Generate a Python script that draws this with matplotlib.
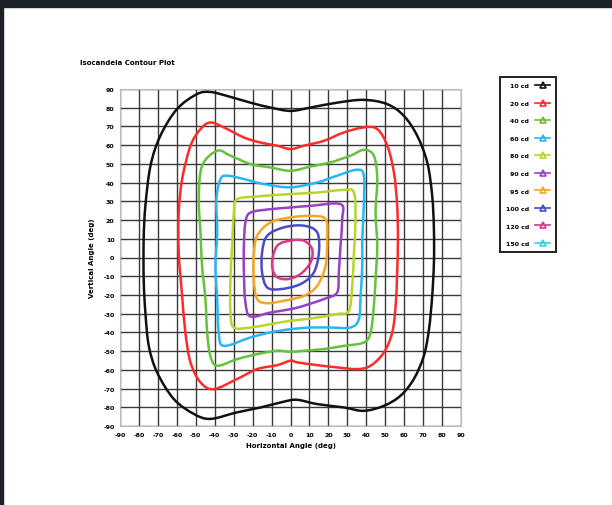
import numpy as np
import matplotlib
matplotlib.use("Agg")
import matplotlib.pyplot as plt
from matplotlib.lines import Line2D
from matplotlib.patches import Rectangle, PathPatch
from matplotlib.path import Path

# contour labels and colours (outer -> inner)
labels = ["10 cd", "20 cd", "40 cd", "60 cd", "80 cd", "90 cd", "95 cd", "100 cd", "120 cd", "150 cd"]
colors = ["#111111", "#ff2a2a", "#66c23a", "#29b6f6", "#b8d62a", "#9a3fc8", "#f5a623", "#4a4acb", "#e0338a", "#33d0e8"]

# contour points (horizontal deg, vertical deg)
c10_x = [-68.7, -59.9, -49.3, -42.3, -33.5, -21.1, -10.6, 0.0, 10.6, 24.6, 38.7, 51.1, 59.9, 66.9, 72.2, 74.8, 75.7,
         75.7, 74.8, 73.1, 70.4, 65.1, 58.1, 49.3, 38.7, 28.2, 14.1, 3.5, -3.5, -15.8, -28.2, -42.3, -51.1, -61.6,
         -70.4, -74.8, -76.6, -77.5, -77.5, -76.6, -73.9]
c10_y = [65.0, 79.3, 87.3, 88.4, 86.3, 82.7, 80.1, 78.3, 80.1, 82.7, 84.2, 81.9, 75.6, 65.0, 50.7, 32.9, 15.1,
         -2.7, -20.5, -38.3, -52.5, -64.9, -73.8, -79.2, -81.9, -80.1, -78.3, -76.0, -77.0, -80.1, -82.7, -86.2, -83.5,
         -75.6, -61.4, -47.2, -29.4, -11.6, 9.8, 27.6, 49.0]

c20_x = [-42.3, -35.2, -24.6, -15.8, -7.0, 0.0, 7.0, 17.6, 28.2, 38.7, 45.8, 51.1, 54.6, 56.3, 56.7, 56.3, 55.5,
         53.7, 49.3, 42.3, 35.2, 24.6, 14.1, 3.5, 0.0, -7.0, -17.6, -28.2, -40.5, -47.5, -52.8, -55.5, -57.2, -59.0,
         -59.0, -57.2, -52.8, -47.5]
c20_y = [72.1, 69.5, 64.1, 61.4, 59.7, 57.9, 59.7, 62.3, 66.8, 69.5, 68.6, 59.7, 45.4, 27.6, 9.8, -8.0, -25.8,
         -40.0, -50.7, -57.8, -59.6, -58.7, -57.5, -56.0, -55.1, -57.5, -59.6, -64.9, -70.3, -66.7, -56.0, -40.0,
         -20.5, 2.7, 24.0, 41.8, 59.6, 68.6]

c40_x = [-38.7, -31.7, -21.1, -10.6, 0.0, 10.6, 21.1, 31.7, 38.7, 44.0, 45.8, 44.9, 45.8, 44.9, 44.0, 42.3, 38.7,
         28.2, 17.6, 7.0, 0.0, -7.0, -17.6, -28.2, -38.7, -42.3, -44.0, -44.9, -46.7, -47.5, -48.4, -46.7]
c40_y = [57.0, 54.4, 49.9, 48.1, 46.3, 48.6, 50.8, 54.4, 57.5, 54.4, 41.9, 24.1, 6.3, -11.6, -25.8, -40.0, -45.4,
         -47.2, -48.9, -49.8, -50.4, -49.8, -51.6, -54.3, -57.8, -52.5, -40.0, -22.2, -4.4, 13.3, 31.1, 48.9]

c60_x = [-33.5, -24.6, -14.1, 0.0, 14.1, 24.6, 35.2, 38.7, 38.7, 37.9, 37.9, 37.0, 36.1, 31.7, 21.1, 10.6, 0.0,
         -10.6, -21.1, -35.2, -37.9, -38.7, -39.6, -38.7, -39.1, -37.0]
c60_y = [43.7, 41.9, 39.2, 37.5, 40.1, 43.7, 46.9, 43.7, 27.7, 9.9, -4.4, -20.5, -32.9, -37.4, -37.4, -37.4, -38.3,
         -40.0, -42.7, -47.2, -40.0, -22.2, -4.4, 13.3, 31.1, 41.8]

c80_x = [-28.2, -17.6, 0.0, 14.1, 28.2, 33.5, 34.3, 33.5, 32.6, 30.8, 24.6, 10.6, 0.0, -10.6, -21.1, -29.9, -31.7,
         -31.7, -30.8, -29.9]
c80_y = [31.1, 32.6, 33.9, 34.7, 36.1, 34.7, 20.5, 2.7, -15.1, -28.5, -30.2, -32.6, -33.8, -35.6, -37.4, -37.4,
         -29.4, -11.6, 6.2, 24.0]

c90_x = [-21.1, -10.6, 0.0, 10.6, 26.4, 27.3, 26.4, 25.5, 24.6, 17.6, 7.0, 0.0, -10.6, -21.1, -23.8, -24.6, -24.6,
         -23.8]
c90_y = [24.0, 25.8, 26.7, 27.6, 28.5, 20.5, 6.2, -8.0, -18.7, -22.2, -25.8, -27.6, -29.4, -31.5, -24.0, -8.0, 6.2,
         18.7]

c95_x = [-17.6, -10.6, 0.0, 10.6, 18.5, 19.4, 18.5, 14.1, 7.0, -3.5, -12.3, -17.6, -19.4, -19.4]
c95_y = [11.6, 18.7, 21.4, 22.2, 20.5, 9.8, -4.4, -15.1, -20.5, -23.1, -24.4, -22.2, -11.6, 0.9]

c100_x = [-12.3, -3.5, 7.0, 14.1, 15.0, 12.3, 5.3, -5.3, -12.3, -15.0, -15.0]
c100_y = [11.6, 16.1, 17.0, 13.4, 2.7, -8.0, -14.2, -16.9, -16.0, -8.0, 2.7]

c120_x = [-7.0, 0.0, 7.0, 11.4, 10.6, 5.3, -1.8, -7.9, -9.7]
c120_y = [6.3, 9.0, 9.0, 4.5, -2.6, -8.8, -11.6, -9.8, -2.7]

c150_x = []
c150_y = []

ticks = list(range(-90, 91, 10))

contours_x = [c10_x, c20_x, c40_x, c60_x, c80_x, c90_x, c95_x, c100_x, c120_x, c150_x]
contours_y = [c10_y, c20_y, c40_y, c60_y, c80_y, c90_y, c95_y, c100_y, c120_y, c150_y]


def closed_curve_path(xs, ys):
    # closed bezier path through the read points (catmull-rom style handles)
    p = np.column_stack([xs, ys])
    n = len(p)
    verts = [p[0]]
    codes = [Path.MOVETO]
    for i in range(n):
        p0, p1, p2, p3 = p[i - 1], p[i], p[(i + 1) % n], p[(i + 2) % n]
        verts += [p1 + (p2 - p0) / 6, p2 - (p3 - p1) / 6, p2]
        codes += [Path.CURVE4] * 3
    return Path(verts, codes)


fig = plt.figure(figsize=(6.12, 5.06), dpi=100)
fig.patch.set_facecolor("white")

# dark frame strips of the screenshot
fig.patches.append(Rectangle((0, 1 - 8 / 506), 1, 8 / 506, transform=fig.transFigure,
                             color="#1c2129", zorder=0))
fig.patches.append(Rectangle((0, 0), 3 / 612, 1, transform=fig.transFigure,
                             color="#1c2129", zorder=0))

ax = fig.add_axes([120 / 612, 1 - 427 / 506, 341 / 612, 337 / 506])

for xs, ys, col in zip(contours_x, contours_y, colors):
    if len(xs) == 0:
        continue
    ax.add_patch(PathPatch(closed_curve_path(xs, ys), facecolor="none", edgecolor=col,
                           lw=1.8, zorder=3))

ax.set_xlim(-90, 90)
ax.set_ylim(-90, 90)
ax.set_xticks(ticks)
ax.set_yticks(ticks)
ax.set_xticklabels([str(t) for t in ticks], fontsize=4.5, fontweight="bold")
ax.set_yticklabels([str(t) for t in ticks], fontsize=4.5, fontweight="bold")
ax.tick_params(length=0, pad=4)
ax.grid(True, color="#3a3a3a", lw=1.0)
ax.set_axisbelow(True)
for s in ax.spines.values():
    s.set_color("#bbbbbb")
    s.set_linewidth(0.8)

ax.set_xlabel("Horizontal Angle (deg)", fontsize=5, fontweight="bold", labelpad=4)
ax.set_ylabel("Vertical Angle (deg)", fontsize=5, fontweight="bold", labelpad=6)
fig.text(80 / 612, 1 - 63 / 506, "Isocandela Contour Plot", fontsize=5, fontweight="bold",
         va="center", ha="left")

handles = [Line2D([], [], color=c, lw=1.2, marker="^", markersize=5, markerfacecolor="none",
                  markeredgewidth=1.2) for c in colors]
leg = fig.legend(handles, labels, loc="upper left", bbox_to_anchor=(497 / 612, 1 - 75 / 506),
                 markerfirst=False, handlelength=2.4, handletextpad=1.0, labelspacing=1.95,
                 borderpad=0.9, fancybox=False, framealpha=1, prop={"weight": "bold", "size": 4.5})
leg.get_frame().set_edgecolor("#222222")
leg.get_frame().set_linewidth(1.4)

fig.savefig("out.png", dpi=100)
